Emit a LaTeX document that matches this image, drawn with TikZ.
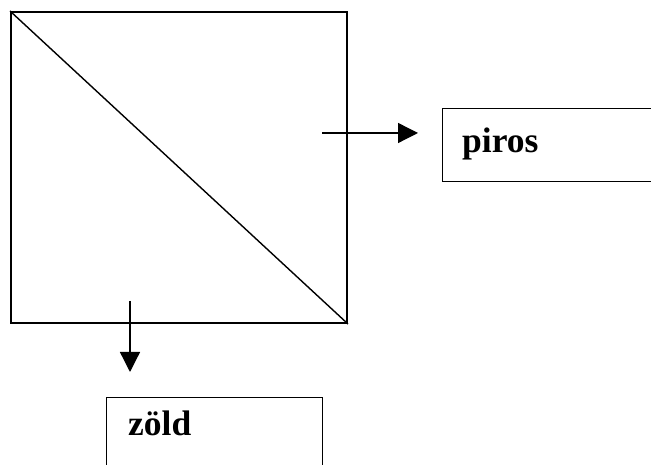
\documentclass[tikz,border=0pt]{standalone}
\usepackage{fontspec}
\setmainfont{Liberation Serif}
\usetikzlibrary{arrows.meta}
\tikzset{
  box/.style={draw, line width=1pt},
  arr/.style={line width=1.3pt, -{Triangle[length=20pt,width=20pt]}},
  lbl/.style={anchor=base west, inner sep=0pt, font=\fontsize{35.5}{40}\selectfont\bfseries}
}
\begin{document}
\begin{tikzpicture}[x=1pt,y=1pt]
\useasboundingbox (0,0) rectangle (651,465);
\clip (0,0) rectangle (651,465);
% square
\node[draw, line width=2pt, minimum width=336pt, minimum height=311pt, inner sep=0pt, anchor=south west] (sq) at (10,141) {};
\draw[line width=1.4pt] (sq.north west) -- (sq.south east);
% boxes
\node[box, minimum width=240pt, minimum height=73pt, inner sep=0pt, anchor=north west] (pbox) at (442,357) {};
\node[box, minimum width=216pt, minimum height=100pt, inner sep=0pt, anchor=north west] (zbox) at (106,68) {};
\node[lbl] (ptxt) at (462,312) {piros};
\node[lbl] (ztxt) at (128,29) {zöld};
% arrows
\coordinate (a1s) at (322,332);
\coordinate (a1e) at (418,332);
\coordinate (a2s) at (130,164);
\coordinate (a2e) at (130,93);
\draw[arr] (a1s) -- (a1e);
\draw[arr] (a2s) -- (a2e);
\end{tikzpicture}
\end{document}
